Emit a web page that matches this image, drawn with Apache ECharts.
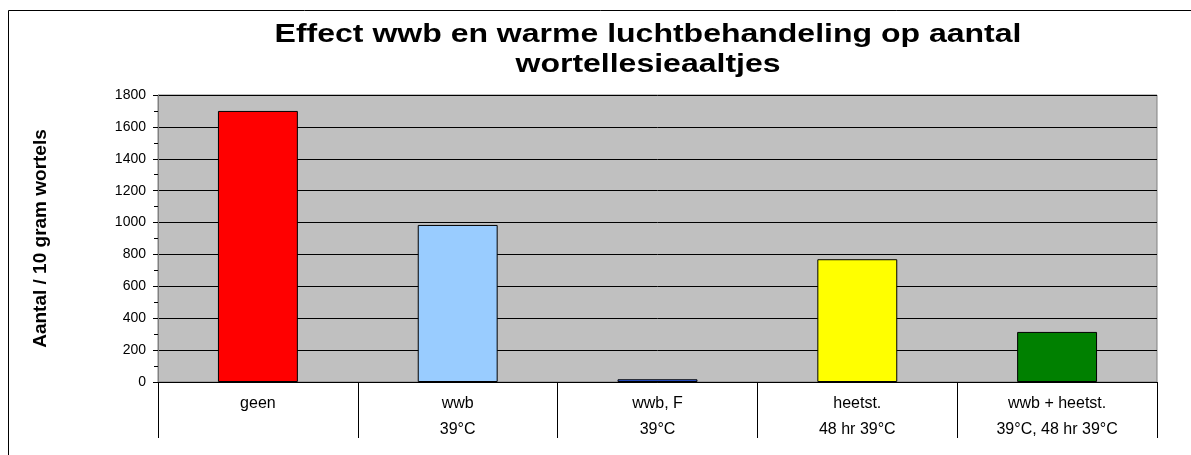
<!DOCTYPE html>
<html>
<head>
<meta charset="utf-8">
<script src="https://cdn.jsdelivr.net/npm/echarts@6/dist/echarts.min.js"></script>
<style>
    html, body { margin: 0; padding: 0; background: #fff; }
    #chart { width: 1191px; height: 455px; }
</style>
</head>
<body>
<div id="chart"></div>
<script>
    // categorie-labels (twee regels) en waarden
    const treatments = ['geen', 'wwb', 'wwb, F', 'heetst.', 'wwb + heetst.'];
    const conditions = ['', '39°C', '39°C', '48 hr 39°C', '39°C, 48 hr 39°C'];
    const counts = [1700, 985, 17, 770, 314];
    const barColors = ['#FF0000', '#99CCFF', '#3366FF', '#FFFF00', '#008000'];

    const chart = echarts.init(document.getElementById('chart'));

    const option = {
        animation: false,
        graphic: [
            {
                // kader om de grafiek
                type: 'rect',
                shape: { x: 8.5, y: 10.5, width: 1200, height: 500 },
                style: { fill: null, stroke: '#000', lineWidth: 1 },
                silent: true,
                z: -10
            },
            {
                // titel, iets breed uitgerekt zoals in het origineel
                type: 'text',
                x: 648,
                y: 20,
                scaleX: 1.28,
                style: {
                    text: 'Effect wwb en warme luchtbehandeling op aantal\nwortellesieaaltjes',
                    align: 'center',
                    verticalAlign: 'top',
                    fontFamily: 'Liberation Sans, Arial, sans-serif',
                    fontSize: 25,
                    fontWeight: 'bold',
                    lineHeight: 30,
                    fill: '#000'
                }
            }
        ],
        grid: {
            left: 158,
            right: 34,
            top: 95,
            bottom: 73,
            show: true,
            backgroundColor: '#C0C0C0',
            borderColor: '#808080',
            borderWidth: 1
        },
        xAxis: {
            type: 'category',
            data: treatments.map(function (t, i) { return t + '\n' + conditions[i]; }),
            axisLine: { show: true, lineStyle: { color: '#000', width: 1 } },
            axisTick: { show: true, length: 56, lineStyle: { color: '#000', width: 1 } },
            axisLabel: {
                margin: 9,
                fontFamily: 'Liberation Sans, Arial, sans-serif',
                fontSize: 16,
                color: '#000',
                lineHeight: 26
            },
            splitLine: { show: false }
        },
        yAxis: {
            type: 'value',
            min: 0,
            max: 1800,
            interval: 200,
            name: 'Aantal / 10 gram wortels',
            nameLocation: 'middle',
            nameGap: 108,
            nameTextStyle: {
                fontFamily: 'Liberation Sans, Arial, sans-serif',
                fontSize: 19,
                fontWeight: 'bold',
                color: '#000'
            },
            axisLine: { show: true, lineStyle: { color: '#808080', width: 1 } },
            axisTick: { show: true, length: 5, lineStyle: { color: '#000' } },
            minorTick: { show: true, splitNumber: 2, length: 4, lineStyle: { color: '#000' } },
            axisLabel: {
                margin: 12,
                fontFamily: 'Liberation Sans, Arial, sans-serif',
                fontSize: 14,
                color: '#000',
                formatter: function (v) { return String(v); }
            },
            splitLine: { show: true, lineStyle: { color: '#000', width: 1 } }
        },
        series: [
            {
                type: 'bar',
                barWidth: '40%',
                data: counts.map(function (v, i) {
                    return { value: v, itemStyle: { color: barColors[i] } };
                }),
                itemStyle: { borderColor: '#000', borderWidth: 1 }
            }
        ]
    };
    chart.setOption(option);

    window.onresize = function () {
        chart.resize();
    };
</script>
</body>
</html>
